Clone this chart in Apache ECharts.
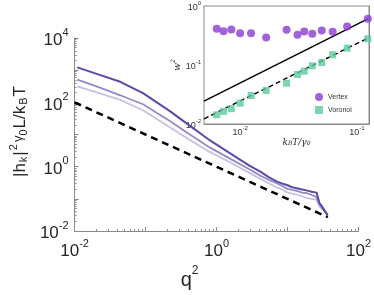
<!DOCTYPE html>
<html><head><meta charset="utf-8">
<script src="https://cdn.jsdelivr.net/npm/echarts@6/dist/echarts.min.js"></script>
<style>html,body{margin:0;padding:0;background:#fff}#c{width:374px;height:295px}</style>
</head><body><div id="c"></div>
<script>
// ---- main plot data ----
const qVals = [0.0109,0.02,0.044,0.092,0.22,0.4,0.8,1.5,2.9,4.2,5.5,7,8.4,10,11.6,13.5,16,19,22,25.7,28,32,36.8];
const darkVals = [1222,783,436,194,53.6,20.4,6.67,2.73,1.08,0.69,0.468,0.35,0.30,0.265,0.231,0.214,0.196,0.181,0.167,0.157,0.0773,0.050,0.0314];
const midVals = [509,318,166,87.3,26.4,10.7,3.99,1.85,0.835,0.52,0.386,0.31,0.251,0.205,0.190,0.178,0.157,0.15,0.132,0.114,0.068,0.0468,0.0314];
const lightVals = [316,209,120,57.1,16.8,7.3,2.89,1.43,0.646,0.412,0.30,0.231,0.196,0.16,0.147,0.137,0.121,0.105,0.1,0.094,0.060,0.0434,0.0314];
const refQ = [0.01, 37];
const refVals = [100, 0.027];
// ---- inset data ----
const tempVals = [0.0063,0.0072,0.0084,0.01,0.0124,0.0167,0.025,0.031,0.0354,0.0415,0.05,0.062,0.0826,0.124];
const vertexVals = [0.411,0.374,0.400,0.346,0.346,0.292,0.397,0.325,0.370,0.338,0.384,0.365,0.449,0.607];
const voronoiVals = [0.0143,0.0164,0.0182,0.0225,0.0304,0.0370,0.0492,0.069,0.0785,0.0969,0.110,0.149,0.193,0.278];
const solidT = [0.0049, 0.124];
const solidVals = [0.0245, 0.607];
const dashT = [0.0049, 0.124];
const dashVals = [0.01225, 0.2846];
const mainXTicks = [-2, 0, 2];
const mainYTicks = [-2, 0, 2, 4];

const zip = (a, b) => a.map((v, i) => [v, b[i]]);
const SANS = 'Liberation Sans';
const SERIF = 'DejaVu Serif';
const exp = v => Math.round(Math.log10(v));
const isPow = v => Math.abs(Math.log10(v) - Math.round(Math.log10(v))) < 1e-6;

function mainFmt(list) {
  return v => {
    if (!isPow(v)) return '';
    const e = exp(v);
    return list.indexOf(e) >= 0 ? '{b|10}{s|' + e + '}' : '';
  };
}
const mainRich = {
  b: {fontSize: 17, fontFamily: SANS, color: '#262626', padding: [5, 0, 0, 0]},
  s: {fontSize: 11, fontFamily: SANS, color: '#262626', verticalAlign: 'top'}
};
const insetFmt = v => isPow(v) ? '{b|10}{s|' + exp(v) + '}' : '';
const insetRich = {
  b: {fontSize: 9, fontFamily: SANS, color: '#333', padding: [3, 0, 0, 0]},
  s: {fontSize: 6, fontFamily: SANS, color: '#333', verticalAlign: 'top'}
};
const axisGray = '#8a8a8a';

const chart = echarts.init(document.getElementById('c'), null, {renderer: 'canvas'});
chart.setOption({
  animation: false,
  backgroundColor: '#fff',
  grid: [
    {left: 74, top: 38, width: 286, height: 215},
    {left: 204, top: 5, width: 165, height: 119, show: true, backgroundColor: '#fff', borderColor: axisGray, borderWidth: 1, z: 1}
  ],
  legend: {
    data: [{name: 'Vertex', icon: 'circle'}, {name: 'Voronoi', icon: 'rect'}],
    orient: 'vertical', left: 315, top: 93, padding: 0, itemWidth: 8, itemHeight: 8, itemGap: 5,
    textStyle: {fontSize: 7, fontFamily: SANS, color: '#333'}
  },
  xAxis: [
    {type: 'log', gridIndex: 0, min: 0.01, max: 100,
     axisLine: {lineStyle: {color: axisGray}},
     axisTick: {inside: true, length: 4, lineStyle: {color: axisGray}},
     minorTick: {show: true, splitNumber: 9, length: 2, lineStyle: {color: axisGray}},
     splitLine: {show: false},
     axisLabel: {formatter: mainFmt(mainXTicks), rich: mainRich, margin: 7},
     name: '{q|q}{s|2}', nameLocation: 'middle', nameGap: 16,
     nameTextStyle: {padding: [0, 54, 0, 0], rich: {
       q: {fontSize: 20, fontFamily: SANS, color: '#262626', padding: [5, 0, 0, 0]},
       s: {fontSize: 12, fontFamily: SANS, color: '#262626', verticalAlign: 'top'}}}
    },
    {type: 'log', gridIndex: 1, min: 0.0049, max: 0.127,
     axisLine: {lineStyle: {color: axisGray}},
     axisTick: {inside: true, length: 3, lineStyle: {color: axisGray}},
     minorTick: {show: true, splitNumber: 9, length: 2, lineStyle: {color: axisGray}},
     splitLine: {show: false},
     axisLabel: {formatter: insetFmt, rich: insetRich, margin: 1},
     name: '{i|k}{sb|B}{i|T/γ}{sb|0}', nameLocation: 'middle', nameGap: 6,
     nameTextStyle: {padding: [0, 0, 0, 20], rich: {
       i: {fontSize: 9, fontFamily: SERIF, fontStyle: 'italic', color: '#262626'},
       sb: {fontSize: 6, fontFamily: SERIF, fontStyle: 'italic', color: '#262626', verticalAlign: 'bottom'}}}
    },
    {type: 'log', gridIndex: 1, min: 0.0049, max: 0.127, position: 'top',
     axisLine: {lineStyle: {color: axisGray}},
     axisTick: {inside: true, length: 3, lineStyle: {color: axisGray}},
     minorTick: {show: true, splitNumber: 9, length: 2, lineStyle: {color: axisGray}},
     splitLine: {show: false}, axisLabel: {show: false}}
  ],
  yAxis: [
    {type: 'log', gridIndex: 0, min: 0.01, max: 10000,
     axisLine: {lineStyle: {color: axisGray}},
     axisTick: {inside: true, length: 4, lineStyle: {color: axisGray}},
     minorTick: {show: true, splitNumber: 9, length: 2, lineStyle: {color: axisGray}},
     splitLine: {show: false},
     axisLabel: {formatter: mainFmt(mainYTicks), rich: mainRich, margin: 6},
     name: '{n|\u007Ch}{sb|k}{n|\u007C}{sp|2}{g|γ}{sb|0}{n|L/k}{sb|B}{n|T}',
     nameLocation: 'middle', nameGap: 30,
     nameTextStyle: {padding: [0, 0, 0, 6], rich: {
       n: {fontSize: 17, fontFamily: SANS, color: '#262626', padding: [4, 1, 0, 1]},
       g: {fontSize: 13, fontFamily: SANS, color: '#262626', padding: [0, 0, 0, 2]},
       sb: {fontSize: 11, fontFamily: SANS, color: '#262626', verticalAlign: 'bottom'},
       sp: {fontSize: 11, fontFamily: SANS, color: '#262626', verticalAlign: 'top'}}}
    },
    {type: 'log', gridIndex: 1, min: 0.01, max: 1,
     axisLine: {lineStyle: {color: axisGray}},
     axisTick: {inside: true, length: 3, lineStyle: {color: axisGray}},
     minorTick: {show: true, splitNumber: 9, length: 2, lineStyle: {color: axisGray}},
     splitLine: {show: false},
     axisLabel: {formatter: insetFmt, rich: insetRich, margin: 3},
     name: '{i|w}{sp|2}', nameLocation: 'middle', nameGap: 22,
     nameTextStyle: {rich: {
       i: {fontSize: 9, fontFamily: SERIF, fontStyle: 'italic', color: '#262626', padding: [2, 0, 0, 0]},
       sp: {fontSize: 6, fontFamily: SERIF, fontStyle: 'italic', color: '#262626', verticalAlign: 'top'}}}
    },
    {type: 'log', gridIndex: 1, min: 0.01, max: 1, position: 'right',
     axisLine: {lineStyle: {color: axisGray}},
     axisTick: {inside: true, length: 3, lineStyle: {color: axisGray}},
     minorTick: {show: true, splitNumber: 9, length: 2, lineStyle: {color: axisGray}},
     splitLine: {show: false}, axisLabel: {show: false}}
  ],
  series: [
    {type: 'line', xAxisIndex: 0, yAxisIndex: 0, data: zip(qVals, lightVals), showSymbol: false, symbol: 'none',
     lineStyle: {color: '#c6c1e3', width: 1.8}, z: 2},
    {type: 'line', xAxisIndex: 0, yAxisIndex: 0, data: zip(qVals, midVals), showSymbol: false, symbol: 'none',
     lineStyle: {color: '#918ac6', width: 1.8}, z: 3},
    {type: 'line', xAxisIndex: 0, yAxisIndex: 0, data: zip(qVals, darkVals), showSymbol: false, symbol: 'none',
     lineStyle: {color: '#5f48a7', width: 2}, z: 4},
    {type: 'line', xAxisIndex: 0, yAxisIndex: 0, data: zip(refQ, refVals), showSymbol: false, symbol: 'none',
     lineStyle: {color: '#000', width: 2.5, type: [7, 5]}, z: 5},
    {type: 'line', xAxisIndex: 1, yAxisIndex: 1, data: zip(solidT, solidVals), showSymbol: false, symbol: 'none',
     lineStyle: {color: '#000', width: 1.4}, z: 6},
    {type: 'line', xAxisIndex: 1, yAxisIndex: 1, data: zip(dashT, dashVals), showSymbol: false, symbol: 'none',
     lineStyle: {color: '#000', width: 1.4, type: [5, 3]}, z: 6},
    {name: 'Vertex', type: 'scatter', xAxisIndex: 1, yAxisIndex: 1, data: zip(tempVals, vertexVals),
     symbol: 'circle', symbolSize: 8, itemStyle: {color: '#8a3bd1'}, z: 7},
    {name: 'Voronoi', type: 'scatter', xAxisIndex: 1, yAxisIndex: 1, data: zip(tempVals, voronoiVals),
     symbol: 'rect', symbolSize: 7, itemStyle: {color: '#5cc99b'}, z: 7}
  ]
});
</script></body></html>
